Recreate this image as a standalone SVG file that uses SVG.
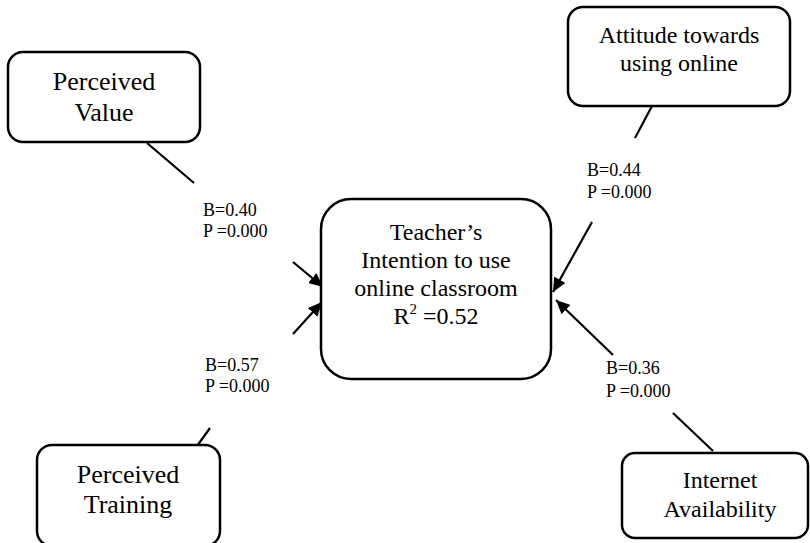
<svg xmlns="http://www.w3.org/2000/svg" width="810" height="543" viewBox="0 0 810 543">
<defs>
<style>
.box{fill:#fff;stroke:#000;stroke-width:2.5}
.t{font-family:"Liberation Serif","Times New Roman",serif;font-size:24px;fill:#000;text-anchor:middle}
.big{font-size:26px}
.lab{font-family:"Liberation Serif","Times New Roman",serif;font-size:18px;fill:#000}
.ln{stroke:#000;stroke-width:2.2;fill:none}
</style>
<marker id="ah" markerUnits="userSpaceOnUse" markerWidth="15" markerHeight="13" refX="14" refY="6.5" orient="auto">
<path d="M0,0 L14,6.5 L0,13 Z" fill="#000"/>
</marker>
</defs>
<rect width="810" height="543" fill="#fff"/>
<g id="connectors">
<line class="ln" x1="147" y1="143" x2="194" y2="183"/>
<line class="ln" x1="293" y1="262" x2="323" y2="287" marker-end="url(#ah)"/>
<line class="ln" x1="197" y1="446" x2="210" y2="428"/>
<line class="ln" x1="293" y1="334" x2="322" y2="302" marker-end="url(#ah)"/>
<line class="ln" x1="652" y1="106" x2="635" y2="138"/>
<line class="ln" x1="592" y1="222" x2="553" y2="292" marker-end="url(#ah)"/>
<line class="ln" x1="713" y1="451" x2="673" y2="413"/>
<line class="ln" x1="613" y1="355" x2="556" y2="300" marker-end="url(#ah)"/>
<text class="lab" x="203" y="216">B=0.40</text>
<text class="lab" x="203" y="237">P =0.000</text>
<text class="lab" x="587" y="176">B=0.44</text>
<text class="lab" x="587" y="198">P =0.000</text>
<text class="lab" x="205" y="371">B=0.57</text>
<text class="lab" x="205" y="392">P =0.000</text>
<text class="lab" x="606" y="374">B=0.36</text>
<text class="lab" x="606" y="397">P =0.000</text>
</g>
<g id="perceived-value">
<rect class="box" x="8" y="52" width="192" height="90" rx="15"/>
<text class="t big" x="104" y="90">Perceived</text>
<text class="t big" x="104" y="121">Value</text>
</g>
<g id="attitude">
<rect class="box" x="568" y="7" width="222" height="99" rx="15"/>
<text class="t" x="679" y="43">Attitude towards</text>
<text class="t" x="679" y="71">using online</text>
</g>
<g id="intention">
<rect class="box" x="321" y="199" width="230" height="180" rx="30"/>
<text class="t" x="436" y="240">Teacher’s</text>
<text class="t" x="436" y="268">Intention to use</text>
<text class="t" x="436" y="296">online classroom</text>
<text class="t" x="436" y="324">R<tspan font-size="15" dy="-10">2</tspan><tspan dy="10"> =0.52</tspan></text>
</g>
<g id="perceived-training">
<rect class="box" x="37" y="445" width="183" height="101" rx="15"/>
<text class="t big" x="128" y="483">Perceived</text>
<text class="t big" x="128" y="513">Training</text>
</g>
<g id="internet">
<rect class="box" x="622" y="453" width="186" height="85" rx="13"/>
<text class="t" x="720" y="488">Internet</text>
<text class="t" x="720" y="517">Availability</text>
</g>
</svg>
